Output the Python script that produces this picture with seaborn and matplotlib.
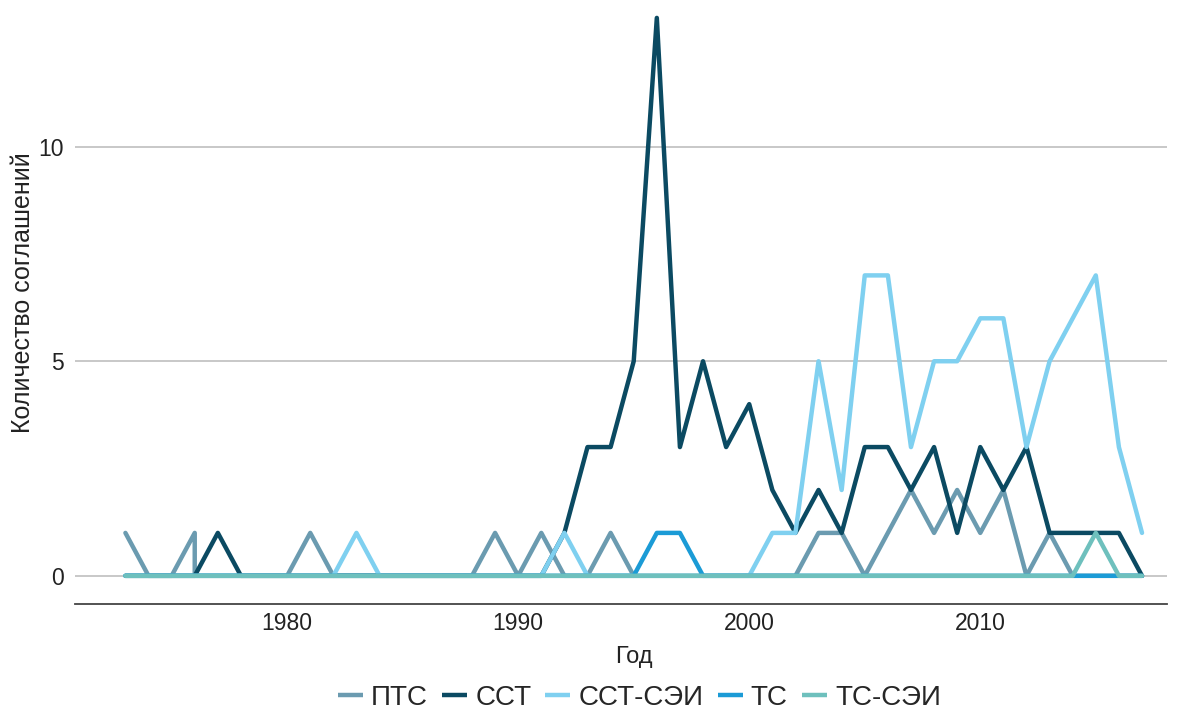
import pandas as pd
import matplotlib.pyplot as plt
import seaborn as sns

# годы наблюдений
years = list(range(1973, 2018))

# ПТС: в 1976 году два значения подряд (вертикальный отрезок)
pts_years = [1973, 1974, 1975, 1976, 1976] + list(range(1977, 2018))
pts = [1, 0, 0, 1, 0,
       0, 0, 0, 0, 1, 0, 0, 0, 0, 0, 0, 0, 1, 0, 1, 0, 0, 1, 0,
       0, 0, 0, 0, 0, 0, 0, 1, 1, 0, 1, 2, 1, 2, 1, 2, 0, 1, 0, 0, 0, 0]
sst = [0, 0, 0, 0, 1, 0, 0, 0, 0, 0, 0, 0, 0, 0, 0, 0, 0, 0, 0,
       1, 3, 3, 5, 13, 3, 5, 3, 4, 2, 1, 2, 1, 3, 3, 2, 3, 1, 3, 2, 3, 1, 1, 1, 1, 0]
sst_sei = [0, 0, 0, 0, 0, 0, 0, 0, 0, 0, 1, 0, 0, 0, 0, 0, 0, 0, 0,
           1, 0, 0, 0, 0, 0, 0, 0, 0, 1, 1, 5, 2, 7, 7, 3, 5, 5, 6, 6, 3, 5, 6, 7, 3, 1]
ts = [0] * 23 + [1, 1] + [0] * 20
ts_sei = [0] * 42 + [1, 0, 0]

series_names = ['ПТС', 'ССТ', 'ССТ-СЭИ', 'ТС', 'ТС-СЭИ']
colors = ['#6b9bb0', '#0b4a62', '#7fd0f0', '#1b9bd6', '#6ec0bd']

# собираем длинную таблицу для seaborn
frames = [pd.DataFrame({'Год': pts_years, 'value': pts, 'series': 'ПТС'})]
for name, vals in zip(series_names[1:], [sst, sst_sei, ts, ts_sei]):
    frames.append(pd.DataFrame({'Год': years, 'value': vals, 'series': name}))
df = pd.concat(frames, ignore_index=True)

sns.set_style('white')
plt.rcParams['font.family'] = ['Liberation Sans', 'DejaVu Sans']

fig, ax = plt.subplots(figsize=(11.84, 7.17), dpi=100)
fig.subplots_adjust(left=0.063, right=0.986, bottom=0.158, top=0.993)

ax.yaxis.grid(True, color='#c8c8c8', linewidth=1.4)
ax.set_axisbelow(True)

sns.lineplot(data=df, x='Год', y='value', hue='series', hue_order=series_names,
             palette=colors, estimator=None, sort=False, linewidth=3.2, ax=ax,
             legend=True)

ax.set_xlim(1970.8, 2018.1)
ax.set_ylim(-0.65, 13.3)
ax.set_xticks([1980, 1990, 2000, 2010])
ax.set_yticks([0, 5, 10])

for side in ['left', 'right', 'top']:
    ax.spines[side].set_visible(False)
ax.spines['bottom'].set_color('#444444')
ax.spines['bottom'].set_linewidth(1.3)

ax.tick_params(axis='x', direction='in', length=7, width=1.3, color='#333333',
               labelsize=16.5, labelcolor='#222222', pad=6)
ax.tick_params(axis='y', length=0, labelsize=16.5, labelcolor='#222222', pad=8)

ax.set_xlabel('Год', fontsize=17, color='#222222')
ax.set_ylabel('Количество соглашений', fontsize=18, color='#222222')
ax.xaxis.set_label_coords(0.512, -0.071)
ax.yaxis.set_label_coords(-0.036, 0.52)

# легенда снизу по центру
handles, labels = ax.get_legend_handles_labels()
ax.get_legend().remove()
for h in handles:
    h.set_solid_capstyle('butt')
fig.legend(handles, labels, loc='lower center', bbox_to_anchor=(0.54, -0.026),
           ncol=5, frameon=False, fontsize=20, handlelength=0.9,
           handletextpad=0.3, columnspacing=0.5)

plt.savefig('out.png', dpi=100)
